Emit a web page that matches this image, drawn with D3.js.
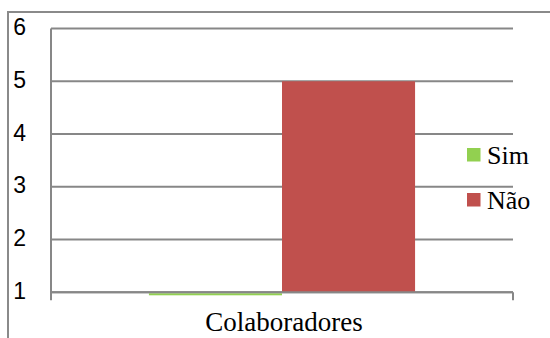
<!DOCTYPE html>
<html>
<head>
<meta charset="utf-8">
<script src="https://cdn.jsdelivr.net/npm/d3@7"></script>
</head>
<body style="margin:0">
<svg id="chart" width="550" height="338"></svg>
<script>
// Survey answers for the "Colaboradores" group
const categories = ["Colaboradores"];
const seriesNames = ["Sim", "Não"];
const seriesColors = ["#92D050", "#C0504D"];
const simValues = [1];
const naoValues = [5];
const yTicks = [1, 2, 3, 4, 5, 6];

const series = [simValues, naoValues];

const svg = d3.select("#chart");
const W = 550, H = 338;
const plot = { left: 51, right: 513, top: 28.5, bottom: 292.3 };

// Outer chart frame (only top and left edges fall inside the view)
svg.append("path")
  .attr("d", `M8,${H} L8,12 L${W},12`)
  .attr("fill", "none")
  .attr("stroke", "#8a8a8a")
  .attr("stroke-width", 2);

const y = d3.scaleLinear()
  .domain([d3.min(yTicks), d3.max(yTicks)])
  .range([plot.bottom, plot.top]);

const x0 = d3.scaleBand()
  .domain(categories)
  .range([plot.left, plot.right])
  .paddingOuter(0.368)
  .paddingInner(0);

const x1 = d3.scaleBand()
  .domain(seriesNames)
  .range([0, x0.bandwidth()])
  .padding(0);

// Horizontal gridlines
svg.append("g")
  .selectAll("line")
  .data(yTicks)
  .join("line")
  .attr("x1", plot.left)
  .attr("x2", plot.right)
  .attr("y1", d => y(d))
  .attr("y2", d => y(d))
  .attr("stroke", "#878787")
  .attr("stroke-width", 2);

// Bars
const baseValue = y.domain()[0];
categories.forEach((cat, ci) => {
  seriesNames.forEach((name, si) => {
    const v = series[si][ci];
    const top = y(v);
    const h = Math.max(y(baseValue) - top, 0);
    svg.append("rect")
      .attr("x", x0(cat) + x1(name))
      .attr("width", x1.bandwidth())
      .attr("y", h > 0 ? top : y(baseValue) + 1)
      .attr("height", h > 0 ? h : 2)
      .attr("fill", seriesColors[si]);
  });
});

// Baseline gridline redrawn over bars
svg.append("line")
  .attr("x1", plot.left).attr("x2", plot.right)
  .attr("y1", y(baseValue)).attr("y2", y(baseValue))
  .attr("stroke", "#878787").attr("stroke-width", 2);

// Vertical value axis line with downward extension
svg.append("line")
  .attr("x1", plot.left).attr("x2", plot.left)
  .attr("y1", plot.top).attr("y2", plot.bottom + 8)
  .attr("stroke", "#878787").attr("stroke-width", 2);

// Category edge tick on the right
svg.append("line")
  .attr("x1", plot.right).attr("x2", plot.right)
  .attr("y1", plot.bottom).attr("y2", plot.bottom + 8)
  .attr("stroke", "#878787").attr("stroke-width", 2);

// Value axis labels
svg.append("g")
  .selectAll("text")
  .data(yTicks)
  .join("text")
  .attr("x", 26)
  .attr("y", d => y(d) - 1.5)
  .attr("dy", "0.35em")
  .attr("text-anchor", "end")
  .attr("font-size", 23)
  .attr("font-family", "Liberation Sans")
  .attr("fill", "#000")
  .text(d => d);

// Category label
svg.append("text")
  .attr("x", x0(categories[0]) + x0.bandwidth() / 2 + 2)
  .attr("y", 331)
  .attr("text-anchor", "middle")
  .attr("font-size", 27)
  .attr("font-family", "Liberation Serif")
  .attr("fill", "#000")
  .text(categories[0]);

// Legend
seriesNames.forEach((name, i) => {
  const ly = 148 + i * 45;
  svg.append("rect")
    .attr("x", 467).attr("y", ly)
    .attr("width", 13.5).attr("height", 13.5)
    .attr("fill", seriesColors[i]);
  svg.append("text")
    .attr("x", 487).attr("y", ly + 15.5)
    .attr("font-size", 26)
    .attr("font-family", "Liberation Serif")
    .attr("fill", "#000")
    .text(name);
});
</script>
</body>
</html>
